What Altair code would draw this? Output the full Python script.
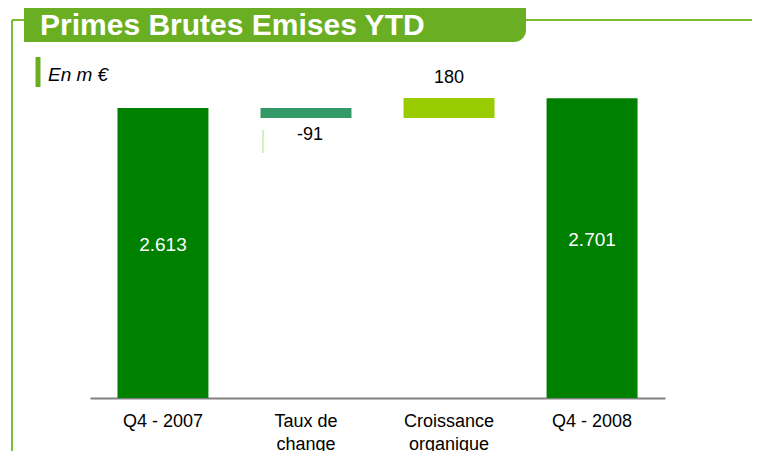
import altair as alt
import pandas as pd

# ---- data ----
categories = ["Q4 - 2007", "Taux de\nchange", "Croissance\norganique", "Q4 - 2008"]
kinds = ["total", "delta", "delta", "total"]
values = [2613, -91, 180, 2701]
colors = ["#008000", "#339966", "#99CC00", "#008000"]
title_text = "Primes Brutes Emises YTD"
unit_text = "En m €"

# ---- build waterfall table ----
rows = []
running = 0
for cat, kind, val, col in zip(categories, kinds, values, colors):
    if kind == "total":
        start, end = 0, val
        running = val
    else:
        start, end = running, running + val
        running = end
    if kind == "total":
        anchor, place = (start + end) / 2, "inside"
    elif val < 0:
        anchor, place = min(start, end), "below"
    else:
        anchor, place = max(start, end), "above"
    rows.append(dict(cat=cat, start=start, end=end, color=col,
                     label=f"{val:,}".replace(",", "."), anchor=anchor, place=place))
df = pd.DataFrame(rows)

FONT = "Arial, Liberation Sans"
W, H = 744, 390
ymax = 2613 * 390 / 290

x_enc = alt.X("cat:N", sort=categories,
              scale=alt.Scale(domain=categories, range=[82, 657],
                              paddingInner=0.364, paddingOuter=0.192),
              axis=alt.Axis(title=None, labelAngle=0, ticks=False, grid=False,
                            domainColor="#808080", domainWidth=2,
                            labelFont=FONT, labelFontSize=18, labelColor="#000000",
                            labelPadding=14, labelBaseline="top", labelLineHeight=23,
                            labelExpr="split(datum.label, '\\n')"))
y_scale = alt.Scale(domain=[0, ymax], nice=False, zero=True)

base = alt.Chart(df)
bars = base.mark_bar().encode(
    x=x_enc,
    y=alt.Y("start:Q", scale=y_scale, axis=None),
    y2="end:Q",
    color=alt.Color("color:N", scale=None),
)
inside = base.transform_filter(alt.datum.place == "inside").mark_text(
    font=FONT, fontSize=19, color="white", baseline="middle", dy=-8
).encode(x=alt.X("cat:N", sort=categories), y=alt.Y("anchor:Q", scale=y_scale), text="label:N")
below = base.transform_filter(alt.datum.place == "below").mark_text(
    font=FONT, fontSize=18, color="#000000", baseline="middle", dy=17, dx=4
).encode(x=alt.X("cat:N", sort=categories), y=alt.Y("anchor:Q", scale=y_scale), text="label:N")
above = base.transform_filter(alt.datum.place == "above").mark_text(
    font=FONT, fontSize=18, color="#000000", baseline="middle", dy=-20
).encode(x=alt.X("cat:N", sort=categories), y=alt.Y("anchor:Q", scale=y_scale), text="label:N")

# ---- decorations ----
deco = alt.Chart(pd.DataFrame({"d": [0]}))
GREEN = "#6AAF23"
LINE = "#7DBB35"
title_box = deco.mark_rect(color=GREEN, cornerRadiusBottomRight=12).encode(
    x=alt.value(16), x2=alt.value(518), y=alt.value(0), y2=alt.value(34))
title = deco.mark_text(font=FONT, fontSize=30, fontWeight="bold", color="white",
                       align="left", baseline="alphabetic").encode(
    x=alt.value(32), y=alt.value(27), text=alt.value(title_text))
hline_r = deco.mark_rule(color=LINE, strokeWidth=2).encode(
    x=alt.value(518), x2=alt.value(752), y=alt.value(12))
hline_l = deco.mark_rule(color=LINE, strokeWidth=2).encode(
    x=alt.value(4), x2=alt.value(16), y=alt.value(12))
vline = deco.mark_rule(color=LINE, strokeWidth=2).encode(
    x=alt.value(4), y=alt.value(12), y2=alt.value(460))
unit_bar = deco.mark_rule(color=GREEN, strokeWidth=5).encode(
    x=alt.value(30), y=alt.value(49), y2=alt.value(79))
unit = deco.mark_text(font=FONT, fontSize=19, fontStyle="italic", color="#000000",
                      align="left", baseline="middle").encode(
    x=alt.value(40), y=alt.value(67), text=alt.value(unit_text))
ghost = deco.mark_rule(color="#D4F2BE", strokeWidth=2).encode(
    x=alt.value(255), y=alt.value(122), y2=alt.value(145))

chart = alt.layer(
    title_box, title, hline_r, hline_l, vline, unit_bar, unit, ghost,
    bars, inside, below, above
).properties(
    width=W, height=H,
    autosize=alt.AutoSizeParams(type="none"),
    padding={"left": 0, "top": 0, "right": 0, "bottom": 70},
).configure_view(stroke=None)

chart.save("out.html", embed_options={"renderer": "svg", "actions": False})
